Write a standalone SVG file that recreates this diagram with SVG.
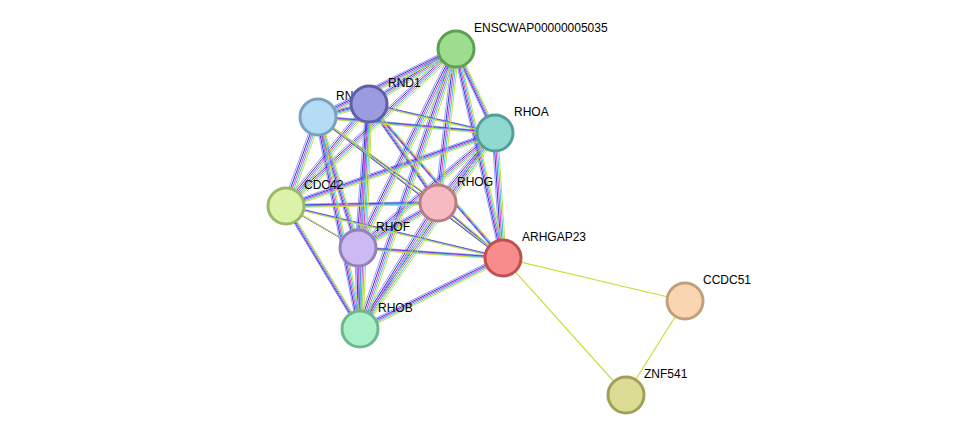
<svg xmlns="http://www.w3.org/2000/svg" xmlns:xlink="http://www.w3.org/1999/xlink" width="975" height="441" viewBox="0 0 975 441">
<style>
.n{stroke-width:3}
.t{font-family:"Liberation Sans",Arial,sans-serif;font-size:12px;fill:#000}
.e line{stroke-width:1.2;fill:none}
</style>
<defs>
<g id="E">
<line x1="456" y1="49" x2="369" y2="104"/><line x1="456" y1="49" x2="318" y2="117"/><line x1="456" y1="49" x2="495" y2="133"/><line x1="456" y1="49" x2="286" y2="206"/><line x1="456" y1="49" x2="438" y2="203"/><line x1="456" y1="49" x2="358" y2="248"/><line x1="456" y1="49" x2="503" y2="258"/><line x1="456" y1="49" x2="360" y2="329"/>
<line x1="369" y1="104" x2="318" y2="117"/><line x1="369" y1="104" x2="495" y2="133"/><line x1="369" y1="104" x2="286" y2="206"/><line x1="369" y1="104" x2="438" y2="203"/><line x1="369" y1="104" x2="358" y2="248"/><line x1="369" y1="104" x2="503" y2="258"/><line x1="369" y1="104" x2="360" y2="329"/>
<line x1="318" y1="117" x2="495" y2="133"/><line x1="318" y1="117" x2="286" y2="206"/><line x1="318" y1="117" x2="438" y2="203"/><line x1="318" y1="117" x2="358" y2="248"/><line x1="318" y1="117" x2="503" y2="258"/><line x1="318" y1="117" x2="360" y2="329"/>
<line x1="495" y1="133" x2="286" y2="206"/><line x1="495" y1="133" x2="438" y2="203"/><line x1="495" y1="133" x2="358" y2="248"/><line x1="495" y1="133" x2="503" y2="258"/><line x1="495" y1="133" x2="360" y2="329"/>
<line x1="286" y1="206" x2="438" y2="203"/><line x1="286" y1="206" x2="358" y2="248"/><line x1="286" y1="206" x2="503" y2="258"/><line x1="286" y1="206" x2="360" y2="329"/>
<line x1="438" y1="203" x2="358" y2="248"/><line x1="438" y1="203" x2="503" y2="258"/><line x1="438" y1="203" x2="360" y2="329"/>
<line x1="358" y1="248" x2="503" y2="258"/><line x1="358" y1="248" x2="360" y2="329"/>
<line x1="503" y1="258" x2="360" y2="329"/>
</g>
</defs>
<rect width="975" height="441" fill="#fff"/>
<g id="connectors" class="e">
<use xlink:href="#E" stroke="#9c9cf0" transform="translate(-3,-1.5)"/>
<use xlink:href="#E" stroke="#3434e0" transform="translate(-1.5,-0.7)"/>
<use xlink:href="#E" stroke="#d441d4" transform="translate(0,0)"/>
<use xlink:href="#E" stroke="#3cc6e8" transform="translate(1.5,0.7)"/>
<use xlink:href="#E" stroke="#c4e03c" transform="translate(3,1.5)"/>
<line x1="503" y1="258" x2="685" y2="301" stroke="#c4e03c" stroke-width="1.5"/>
<line x1="503" y1="258" x2="626" y2="395" stroke="#c4e03c" stroke-width="1.5"/>
<line x1="685" y1="301" x2="626" y2="395" stroke="#c4e03c" stroke-width="1.5"/>
</g>
<g id="ENSCWAP00000005035"><circle class="n" cx="456" cy="49" r="18" fill="#9edc8f" stroke="#5fa050"/><text class="t" x="474" y="32">ENSCWAP00000005035</text></g>
<g id="RND3"><circle class="n" cx="318" cy="117" r="18" fill="#b4dcf4" stroke="#7aa2c0"/><text class="t" x="336" y="100">RND3</text></g>
<g id="RND1"><circle class="n" cx="369" cy="104" r="18" fill="#9b9be0" stroke="#5f5fa8"/><text class="t" x="388" y="87">RND1</text></g>
<g id="RHOA"><circle class="n" cx="495" cy="133" r="18" fill="#8fd9d0" stroke="#52a098"/><text class="t" x="514" y="116">RHOA</text></g>
<g id="CDC42"><circle class="n" cx="286" cy="206" r="18" fill="#dbf2a8" stroke="#9bb868"/><text class="t" x="304" y="189">CDC42</text></g>
<g id="RHOG"><circle class="n" cx="438" cy="203" r="18" fill="#f5bac2" stroke="#bc7c84"/><text class="t" x="457" y="186">RHOG</text></g>
<g id="RHOF"><circle class="n" cx="358" cy="248" r="18" fill="#cdbaf5" stroke="#9282bc"/><text class="t" x="376" y="231">RHOF</text></g>
<g id="ARHGAP23"><circle class="n" cx="503" cy="258" r="18" fill="#f88c8c" stroke="#c05050"/><text class="t" x="522" y="241">ARHGAP23</text></g>
<g id="RHOB"><circle class="n" cx="360" cy="329" r="18" fill="#aaf0c8" stroke="#6cb88c"/><text class="t" x="378" y="312">RHOB</text></g>
<g id="CCDC51"><circle class="n" cx="685" cy="301" r="18" fill="#f9d5b2" stroke="#c0a07a"/><text class="t" x="703" y="284">CCDC51</text></g>
<g id="ZNF541"><circle class="n" cx="626" cy="395" r="18" fill="#dcdc94" stroke="#a0a05a"/><text class="t" x="644" y="378">ZNF541</text></g>
</svg>
